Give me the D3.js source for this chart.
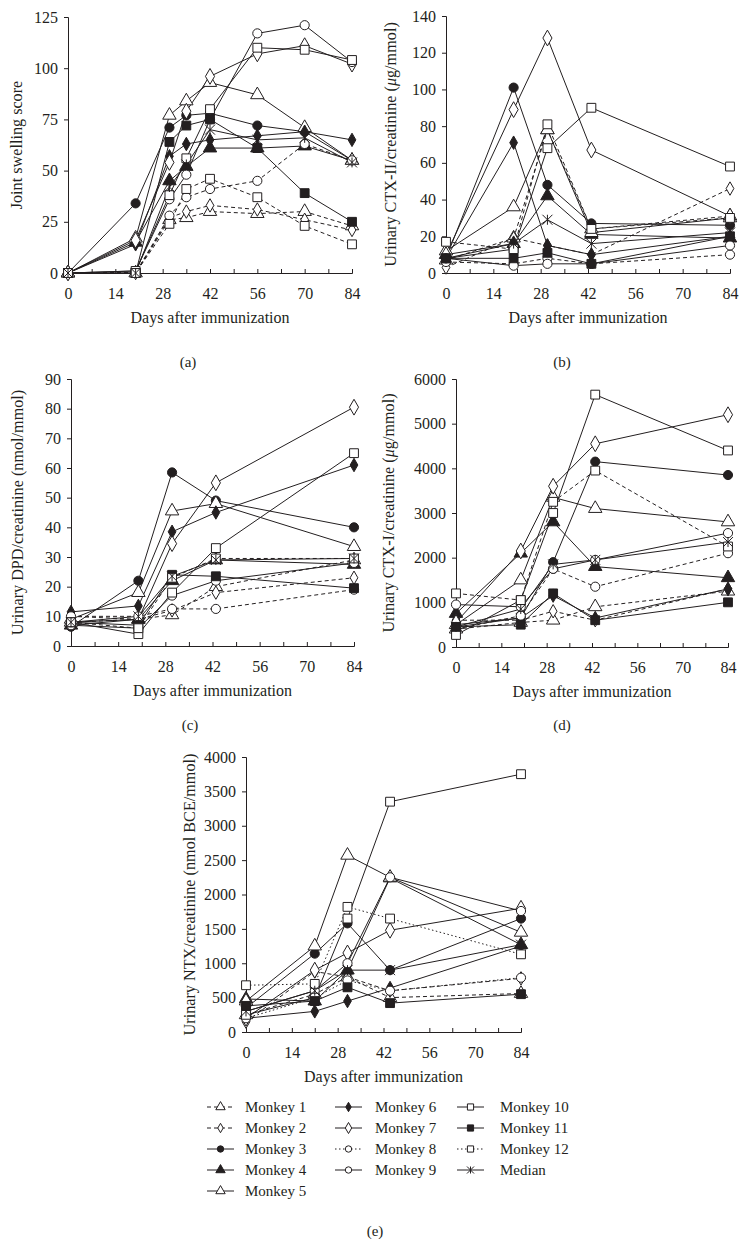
<!DOCTYPE html>
<html>
<head>
<meta charset="utf-8">
<script src="https://cdn.jsdelivr.net/npm/d3@7"></script>
<style>
  body { margin: 0; background: #fff; }
  svg text { font-family: "Liberation Serif", "Times New Roman", serif; fill: #231f20; }
</style>
</head>
<body>
<svg id="chart" width="748" height="1239"></svg>
<script>
// series names, in legend order
var seriesNames = ["Monkey 1", "Monkey 2", "Monkey 3", "Monkey 4", "Monkey 5", "Monkey 6",
                   "Monkey 7", "Monkey 8", "Monkey 9", "Monkey 10", "Monkey 11", "Monkey 12", "Median"];

var daysJoint = [0, 20, 30, 35, 42, 56, 70, 84];
var daysUrine = [0, 20, 30, 43, 84];
var daysNtx = [0, 21, 31, 44, 84];
var xTicks = [0, 7, 14, 21, 28, 35, 42, 49, 56, 63, 70, 77, 84];

// (a) joint swelling score
var jointScore = [
    [0, 0, 26, 27, 30, 29, 30, 23],
    [0, 0, 27, 30, 33, 31, 26, 21],
    [0, 34, 71, 77, 78, 72, 69, 55],
    [0, 15, 45, 52, 61, 61, 62, 55],
    [0, 17, 77, 84, 93, 87, 71, 55],
    [0, 14, 57, 63, 65, 67, 69, 65],
    [0, 16, 54, 79, 96, 107, 111, 102],
    [0, 0, 28, 37, 41, 45, 63, 55],
    [0, 1, 36, 48, 75, 117, 121, 103],
    [0, 1, 38, 56, 80, 110, 109, 104],
    [0, 0, 64, 72, 75, 61, 39, 25],
    [0, 0, 24, 41, 46, 37, 23, 14],
    [0, 0, 42, 53, 70, 65, 66, 54]
];
// (b) urinary CTX-II
var ctx2 = [
    [7, 19, 78, 24, 31],
    [3, 19, 15, 10, 46],
    [8, 101, 48, 27, 26],
    [10, 16, 42, 21, 19],
    [12, 36, 78, 22, 30],
    [8, 71, 15, 10, 20],
    [10, 89, 128, 67, 31],
    [6, 5, 8, 5, 10],
    [8, 4, 5, 5, 15],
    [8, 13, 68, 90, 58],
    [8, 8, 11, 5, 20],
    [17, 13, 81, 24, 30],
    [8, 16, 29, 16, 22]
];
// (c) urinary DPD
var dpd = [
    [8, 9, 10.5, 20, 29],
    [10, 9, 12, 18, 23],
    [6.5, 22, 58.5, 49, 40],
    [7, 9, 22, 29, 27.5],
    [9, 18, 45.5, 48, 33.5],
    [11.5, 13.5, 38.5, 45, 61],
    [8, 9, 34.5, 55, 80.5],
    [10, 10, 12.5, 12.5, 19],
    [7, 6, 17, 22, 28],
    [8, 4, 18, 33, 65],
    [8, 7, 24, 23.5, 19.5],
    [8, 6, 23, 29.5, 29.5],
    [8, 10, 23.5, 29, 29.5]
];
// (d) urinary CTX-I
var ctx1 = [
    [400, 550, 600, 900, 1250],
    [600, 600, 800, 600, 1300],
    [450, 650, 1900, 4150, 3850],
    [750, 2100, 2800, 1800, 1550],
    [500, 1500, 3350, 3100, 2800],
    [500, 650, 1150, 650, 1300],
    [550, 2150, 3600, 4550, 5200],
    [400, 700, 1750, 1350, 2100],
    [950, 900, 1750, 1950, 2550],
    [270, 1050, 3000, 5650, 4400],
    [450, 500, 1200, 600, 1000],
    [1200, 1050, 3250, 3950, 2250],
    [450, 850, 1850, 1950, 2350]
];
// (e) urinary NTX
var ntx = [
    [250, 550, 800, 500, 560],
    [150, 880, 800, 600, 780],
    [350, 1140, 1580, 900, 1650],
    [480, 450, 900, 2240, 1270],
    [450, 1250, 2570, 2250, 1450],
    [200, 300, 450, 640, 1250],
    [200, 900, 1150, 1480, 1800],
    [200, 500, 750, 600, 790],
    [300, 600, 1000, 2250, 1760],
    [250, 500, 1650, 3350, 3750],
    [380, 450, 650, 420, 550],
    [680, 700, 1820, 1650, 1130],
    [300, 600, 900, 900, 1270]
];

// style of each series: marker kind, filled, line dash ("dot" ones print dashed in a-d)
var styles = [
    {m: "tri", fill: false, dash: "4,3"},
    {m: "dia", fill: false, dash: "4,3", small: true},
    {m: "circ", fill: true, dash: null},
    {m: "tri", fill: true, dash: null},
    {m: "tri", fill: false, dash: null},
    {m: "dia", fill: true, dash: null, small: true},
    {m: "dia", fill: false, dash: null},
    {m: "circ", fill: false, dash: "1.5,2.5", dot: true},
    {m: "circ", fill: false, dash: null},
    {m: "sq", fill: false, dash: null},
    {m: "sq", fill: true, dash: null},
    {m: "sq", fill: false, dash: "1.5,2.5", dot: true},
    {m: "star", fill: false, dash: null}
];

var ink = "#231f20";
var svg = d3.select("#chart");

function markerPath(st, k) {
    k = k || 1;
    if (st.m === "star") {
        var s = 5 * k;
        return "M" + (-s) + "," + (-s) + "L" + s + "," + s + "M" + (-s) + "," + s + "L" + s + "," + (-s) +
               "M0," + (-s) + "L0," + s;
    }
    var type = {tri: d3.symbolTriangle, dia: d3.symbolDiamond, circ: d3.symbolCircle, sq: d3.symbolSquare}[st.m];
    var size = {tri: 78, dia: 72, circ: 66, sq: 78}[st.m];
    if (st.small) size = 52;
    return d3.symbol().type(type).size(size * k * k)();
}

function drawMarker(g, st, x, y, k) {
    g.append("path")
        .attr("transform", "translate(" + x + "," + y + ")")
        .attr("d", markerPath(st, k))
        .attr("fill", st.fill ? ink : "#fff")
        .attr("stroke", ink)
        .attr("stroke-width", 1);
}

function panel(p) {
    var g = svg.append("g");
    var x = d3.scaleLinear().domain([0, 84]).range([p.x0, p.x1]);
    var y = d3.scaleLinear().domain([0, p.yMax]).range([p.yb, p.yt]);

    // x axis, inward ticks every 7 days, labels every 14
    var xa = g.append("g").attr("transform", "translate(0," + p.yb + ")")
        .call(d3.axisBottom(x).tickValues(xTicks).tickSize(-4).tickPadding(15)
            .tickFormat(function(d) { return d % 14 === 0 ? d : ""; }));
    var ya = g.append("g").attr("transform", "translate(" + p.x0 + ",0)")
        .call(d3.axisLeft(y).tickValues(d3.range(0, p.yMax + 1, p.yStep)).tickSize(4).tickPadding(6)
            .tickFormat(d3.format("d")));
    [xa, ya].forEach(function(a) {
        a.select(".domain").attr("stroke", ink);
        a.selectAll(".tick line").attr("stroke", ink);
        a.selectAll("text").attr("font-size", 16).attr("fill", ink)
            .style("font-family", '"Liberation Serif", serif');
    });

    var line = d3.line().x(function(d, i) { return x(p.days[i]); }).y(function(d) { return y(d); });
    p.data.forEach(function(s, i) {
        var dash = styles[i].dash;
        if (styles[i].dot && !p.dotted) dash = "4,3";
        g.append("path").attr("d", line(s)).attr("fill", "none").attr("stroke", ink)
            .attr("stroke-width", 1).attr("stroke-dasharray", dash);
    });
    p.data.forEach(function(s, i) {
        s.forEach(function(v, j) { drawMarker(g, styles[i], x(p.days[j]), y(v)); });
    });

    // axis titles
    var lab = g.append("text").attr("font-size", 16.2).attr("text-anchor", "middle")
        .attr("transform", "translate(" + p.ylx + "," + ((p.yb + p.yt) / 2) + ") rotate(-90)");
    p.ylabel.forEach(function(part) {
        var t = lab.append("tspan").text(part[0]);
        if (part[1]) t.attr("font-style", "italic");
    });
    g.append("text").attr("x", (p.x0 + p.x1) / 2).attr("y", p.yb + 50)
        .attr("font-size", 16).attr("text-anchor", "middle").text("Days after immunization");
    g.append("text").attr("x", p.capX).attr("y", p.capY)
        .attr("font-size", 15).attr("text-anchor", "middle").text(p.cap);
}

panel({days: daysJoint, data: jointScore, yMax: 125, yStep: 25, x0: 68, x1: 352, yb: 273, yt: 17,
       ylx: 22, ylabel: [["Joint swelling score"]], cap: "(a)", capX: 188, capY: 367});
panel({days: daysUrine, data: ctx2, yMax: 140, yStep: 20, x0: 446, x1: 730, yb: 273, yt: 16,
       ylx: 396, ylabel: [["Urinary CTX-II/creatinine ("], ["\u03bc", true], ["g/mmol)"]], cap: "(b)", capX: 562, capY: 367});
panel({days: daysUrine, data: dpd, yMax: 90, yStep: 10, x0: 71, x1: 354, yb: 646, yt: 379,
       ylx: 23, ylabel: [["Urinary DPD/creatinine (nmol/mmol)"]], cap: "(c)", capX: 190, capY: 730});
panel({days: daysUrine, data: ctx1, yMax: 6000, yStep: 1000, x0: 456, x1: 728, yb: 647, yt: 379,
       ylx: 394, ylabel: [["Urinary CTX-I/creatinine ("], ["\u03bc", true], ["g/mmol)"]], cap: "(d)", capX: 562, capY: 730});
panel({days: daysNtx, data: ntx, yMax: 4000, yStep: 500, x0: 246, x1: 521, yb: 1032, yt: 757, dotted: true,
       ylx: 195, ylabel: [["Urinary NTX/creatinine (nmol BCE/mmol)"]], cap: "(e)", capX: 375, capY: 1236});

// legend
var legCols = [{sx: 207, tx: 245}, {sx: 335, tx: 375}, {sx: 457, tx: 500}];
var legRows = [1107, 1128, 1149, 1170, 1191];
var legend = svg.append("g");
seriesNames.forEach(function(name, i) {
    var col = i < 5 ? 0 : (i < 9 ? 1 : 2);
    var row = i < 5 ? i : (i < 9 ? i - 5 : i - 9);
    var c = legCols[col], yy = legRows[row], st = styles[i];
    legend.append("line").attr("x1", c.sx).attr("x2", c.sx + 27).attr("y1", yy).attr("y2", yy)
        .attr("stroke", ink).attr("stroke-width", 1).attr("stroke-dasharray", st.dash);
    drawMarker(legend, st, c.sx + 13.5, yy, 0.7);
    legend.append("text").attr("x", c.tx).attr("y", yy + 5).attr("font-size", 15).text(name);
});
</script>
</body>
</html>
